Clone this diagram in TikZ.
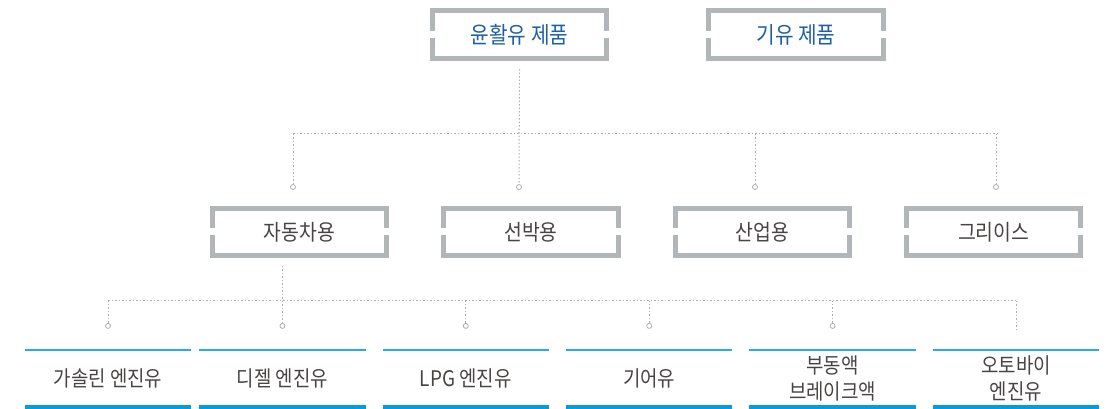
\documentclass[tikz,border=0pt]{standalone}
\usepackage{fontspec}
\setmainfont[FakeStretch=0.88]{Noto Sans CJK KR}
\usepackage{xcolor}
\usepackage{tikz}
\usetikzlibrary{positioning}
\definecolor{framegray}{RGB}{177,182,185}
\definecolor{titleblue}{RGB}{30,95,165}
\definecolor{labelgray}{RGB}{72,68,68}
\definecolor{linkgray}{RGB}{170,174,178}
\definecolor{rulelight}{RGB}{40,172,232}
\definecolor{ruledark}{RGB}{0,158,222}

\begin{document}
\begin{tikzpicture}[x=1pt, y=1pt,
       group/.style={minimum width=174pt, minimum height=47pt, inner sep=0pt},
       product/.style={group, text=titleblue, font=\fontsize{23}{26}\selectfont},
       usage/.style={group, text=labelgray, font=\fontsize{22}{25}\selectfont},
       item/.style={minimum width=166pt, minimum height=57pt, inner sep=0pt, align=center, text=labelgray, font=\fontsize{21.5}{26}\selectfont},
       frame/.style={line width=5pt, framegray},
       link/.style={line width=1pt, linkgray, dash pattern=on 1.5pt off 2pt},
       tip/.style={circle, draw=linkgray, fill=white, line width=0.8pt, minimum size=5pt, inner sep=0pt}]
       \useasboundingbox (0,0) rectangle (1110,409);

       % Nodes
       \node[product] (lub) at (519.5,374.5) {윤활유 제품};
       \node[product, right=102pt of lub] (base) {기유 제품};

       \node[usage] (auto) at (299.5,177) {자동차용};
       \node[usage, right=57pt of auto] (ship) {선박용};
       \node[usage, right=57pt of ship] (ind) {산업용};
       \node[usage, right=57pt of ind] (grease) {그리이스};

       \node[item] (gas) at (108,30.5) {가솔린 엔진유};
       \node[item, right=8pt of gas] (diesel) {디젤 엔진유};
       \node[item, right=17pt of diesel] (lpg) {LPG 엔진유};
       \node[item, right=17pt of lpg] (gear) {기어유};
       \node[item, right=17pt of gear] (brake) {부동액\\브레이크액};
       \node[item, right=17pt of brake] (moto) {오토바이\\엔진유};

       % Frames
       \foreach \n in {lub,base,auto,ship,ind,grease} {
         \draw[frame] ([yshift=3.5pt]\n.west) |- (\n.north east) -- ([yshift=3.5pt]\n.east);
         \draw[frame] ([yshift=-3.5pt]\n.west) |- (\n.south east) -- ([yshift=-3.5pt]\n.east);
       }
       \foreach \n in {gas,diesel,lpg,gear,brake,moto} {
         \draw[line width=1.6pt, rulelight] (\n.north west) -- (\n.north east);
         \draw[line width=4pt, ruledark] (\n.south west) -- (\n.south east);
       }

       % Tips
       \foreach \x/\n in {293/tauto,519/tship,755/tind,996/tgrease}
         \node[tip] (\n) at (\x,222) {};
       \foreach \n in {gas,diesel,lpg,gear,brake}
         \node[tip, above=21pt of \n.north] (t\n) {};

       % Links (upper level)
       \coordinate (busl) at (293,275);
       \coordinate (busr) at (997,275);
       \draw[link] (busl) -- (busr);
       \draw[link] ([yshift=-11pt]lub.south) -- (tship.north);
       \foreach \n in {tauto,tind,tgrease}
         \draw[link] (\n.north) -- (\n |- busl);

       % Links (lower level)
       \coordinate (lowl) at (tgas |- 0,108);
       \coordinate (lowr) at (moto.north |- 0,108);
       \path (tdiesel |- auto.south) ++(0,-10pt) coordinate (autoout);
       \draw[link] (lowl) -- (lowr);
       \draw[link] (autoout) -- (tdiesel.north);
       \foreach \n in {tgas,tlpg,tgear,tbrake}
         \draw[link] (\n.north) -- (\n |- lowl);
       \draw[link] (lowr) -- ([yshift=20pt]moto.north);
\end{tikzpicture}
\end{document}
